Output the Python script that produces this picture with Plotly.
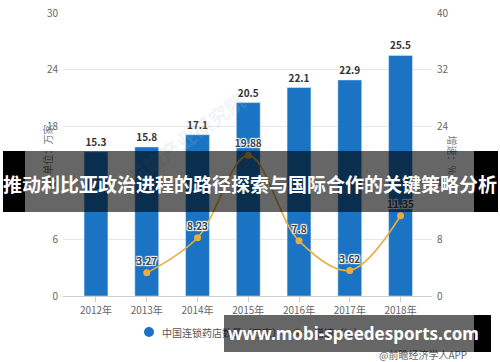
import plotly.graph_objects as go

# ---- data ----
years = ["2012年", "2013年", "2014年", "2015年", "2016年", "2017年", "2018年"]
store_counts = [15.3, 15.8, 17.1, 20.5, 22.1, 22.9, 25.5]          # 万家
growth_years = ["2013年", "2014年", "2015年", "2016年", "2017年", "2018年"]
growth_rates = [3.27, 8.23, 19.88, 7.8, 3.62, 11.35]                 # %
left_ticks = [0, 6, 12, 18, 24, 30]
right_ticks = [0, 8, 16, 24, 32, 40]

bar_name = "中国连锁药店数量（万家）"
line_name = "增速（%）"
banner_text = "推动利比亚政治进程的路径探索与国际合作的关键策略分析"
site_text = "www.mobi-speedesports.com"
source_text = "@前瞻经济学人APP"

BLUE = "#1a74c3"
GOLD = "#e6ae3e"
FONT = "Noto Sans CJK SC, Noto Sans, sans-serif"

# plot-area geometry in pixels (for placing overlay annotations)
L, T, W, H = 63, 13, 369, 283


def px_x(px):
    return (px - L) / W


def px_y(py):
    return (T + H - py) / H


fig = go.Figure()

fig.add_trace(go.Bar(
    x=years, y=store_counts, name=bar_name, marker_color=BLUE, width=0.47,
    text=[f"{v:g}" for v in store_counts], textposition="outside",
    textfont=dict(size=10, color="#333333", weight="bold"),
    cliponaxis=False, yaxis="y",
))
halo = "1px 1px 1px white, -1px -1px 1px white, 1px -1px 1px white, -1px 1px 1px white"
fig.add_trace(go.Scatter(
    x=growth_years, y=growth_rates, name=line_name, yaxis="y2",
    mode="lines+markers+text", line=dict(color=GOLD, width=1.6, shape="spline", smoothing=1.0),
    marker=dict(color=GOLD, size=7),
    text=[f"{v:g}" for v in growth_rates], textposition="top center",
    textfont=dict(size=10, color="#444444", weight="bold", shadow=halo),
    cliponaxis=False,
))

# legend drawn by hand so that the overlay boxes can cover it as in the reference
shapes = [
    dict(type="circle", xref="paper", yref="paper", layer="above",
         x0=px_x(144), x1=px_x(154), y0=px_y(337), y1=px_y(327),
         fillcolor=BLUE, line=dict(width=0)),
    dict(type="line", xref="paper", yref="paper", layer="above",
         x0=px_x(285), x1=px_x(309), y0=px_y(332), y1=px_y(332),
         line=dict(color=GOLD, width=1.6)),
    dict(type="circle", xref="paper", yref="paper", layer="above",
         x0=px_x(293.5), x1=px_x(300.5), y0=px_y(335.5), y1=px_y(328.5),
         fillcolor=GOLD, line=dict(width=0)),
]

annotations = []
# watermark (faint)
annotations.append(dict(
    x=px_x(186), y=px_y(83), xref="paper", yref="paper", text="前瞻产业研究院",
    showarrow=False, textangle=-36, font=dict(size=20, color="rgba(170,185,200,0.18)", family=FONT, weight="bold"),
))
# axis titles
annotations.append(dict(
    x=px_x(37), y=px_y(150), xref="paper", yref="paper", text="单位：万家",
    showarrow=False, textangle=-90, font=dict(size=10, color="#777777", family=FONT),
))
annotations.append(dict(
    x=px_x(462), y=px_y(155), xref="paper", yref="paper", text="增速：%",
    showarrow=False, textangle=90, font=dict(size=10, color="#777777", family=FONT),
))
# legend texts
annotations.append(dict(
    x=px_x(160), y=px_y(332), xref="paper", yref="paper", text=bar_name,
    xanchor="left", yanchor="middle", showarrow=False,
    font=dict(size=10, color="#555555", family=FONT),
))
annotations.append(dict(
    x=px_x(312), y=px_y(332), xref="paper", yref="paper", text=line_name,
    xanchor="left", yanchor="middle", showarrow=False,
    font=dict(size=10, color="#555555", family=FONT),
))
# source
annotations.append(dict(
    x=px_x(469), y=px_y(354), xref="paper", yref="paper", text=source_text,
    xanchor="right", yanchor="middle", showarrow=False,
    font=dict(size=10, color="#666666", family=FONT),
))


def box(cx, cy, w, h, color):
    return dict(x=px_x(cx), y=px_y(cy), xref="paper", yref="paper", text=" ",
                showarrow=False, width=w, height=h, bgcolor=color, borderpad=0,
                borderwidth=0, xanchor="center", yanchor="middle", font=dict(size=4))


# banner across the middle
annotations.append(box(14, 181.5, 22, 61, "#000000"))
annotations.append(box(249.5, 181.5, 449, 61, "rgba(0,0,0,0.6)"))
annotations.append(box(486, 181.5, 24, 61, "#000000"))
annotations.append(dict(
    x=px_x(250), y=px_y(183), xref="paper", yref="paper", text=banner_text,
    showarrow=False, font=dict(size=19, color="white", family=FONT, weight="bold"),
))
# site box at the bottom
annotations.append(box(349, 333.5, 250, 37, "rgba(0,0,0,0.6)"))
annotations.append(box(482.5, 333.5, 17, 37, "#000000"))
annotations.append(dict(
    x=px_x(226), y=px_y(333), xref="paper", yref="paper", text=site_text,
    xanchor="left", yanchor="middle", showarrow=False,
    font=dict(size=17, color="white", family="Noto Sans, sans-serif", weight="bold"),
))

fig.update_layout(
    width=500, height=362,
    margin=dict(l=L, r=500 - L - W, t=T, b=362 - T - H, autoexpand=False),
    paper_bgcolor="white", plot_bgcolor="white",
    font=dict(family=FONT, size=10, color="#666666"),
    bargap=0.5,
    showlegend=False,
    xaxis=dict(
        type="category", categoryorder="array", categoryarray=years,
        range=[-0.65, 6.62], showgrid=False, showline=True, linecolor="#cccccc",
        ticks="outside", ticklen=5, tickcolor="#cccccc", automargin=False,
        tickfont=dict(size=10, color="#666666"),
    ),
    yaxis=dict(
        range=[0, 30], tickvals=left_ticks, showgrid=True, gridcolor="#e6e6e6",
        zeroline=False, showline=False, ticks="", ticklabelstandoff=4, automargin=False,
        tickfont=dict(size=10, color="#666666"),
    ),
    yaxis2=dict(
        range=[0, 40], tickvals=right_ticks, overlaying="y", side="right",
        showgrid=False, zeroline=False, showline=False, ticks="", ticklabelstandoff=4,
        automargin=False, tickfont=dict(size=10, color="#666666"),
    ),
    shapes=shapes,
    annotations=annotations,
)

fig.write_html(
    "out.html",
    config={"displayModeBar": False},
    post_script="document.body.style.margin='0';document.body.style.padding='0';",
)
